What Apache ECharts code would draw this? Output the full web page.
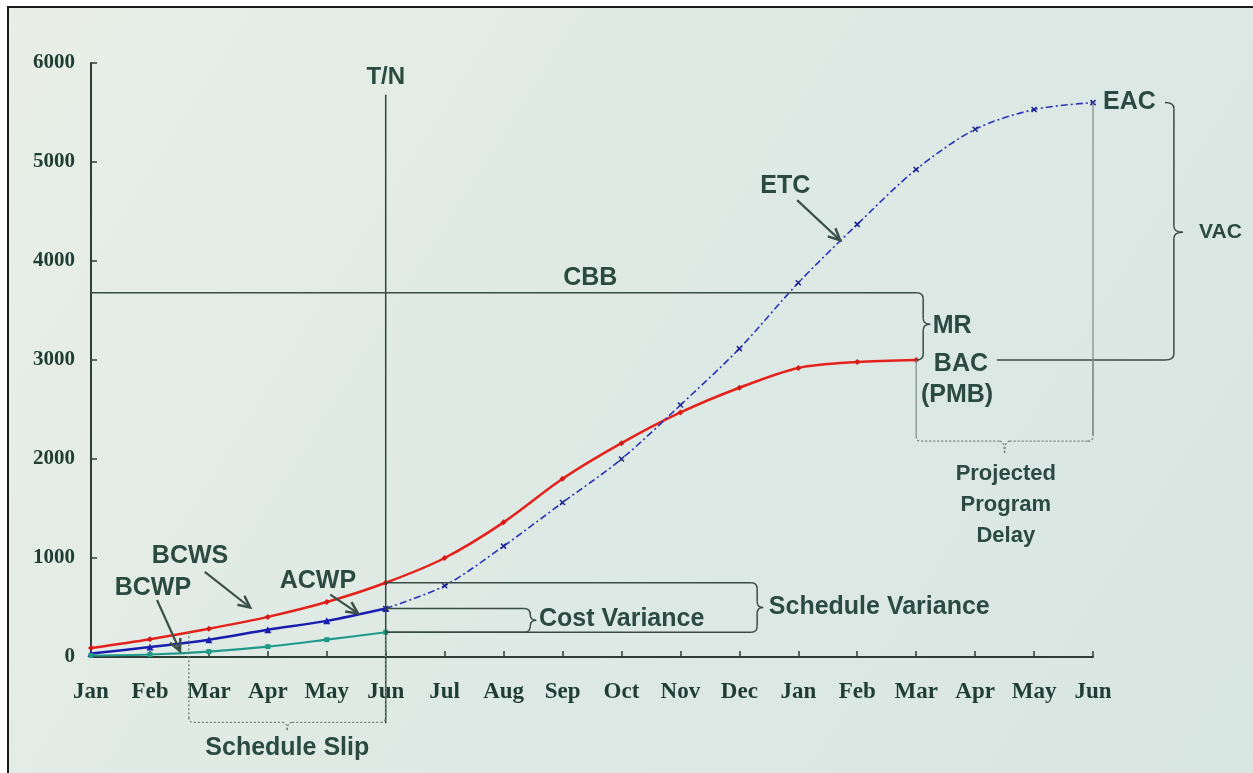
<!DOCTYPE html>
<html>
<head>
<meta charset="utf-8">
<style>
  html, body { margin: 0; padding: 0; background: #fff; }
  #main { width: 1253px; height: 773px; }
</style>
<script src="https://cdn.jsdelivr.net/npm/echarts@6/dist/echarts.min.js"></script>
</head>
<body>
<div id="main"></div>
<script>
// month categories (two fiscal years, Jan .. Jun of next year)
const months = ['Jan', 'Feb', 'Mar', 'Apr', 'May', 'Jun', 'Jul', 'Aug', 'Sep', 'Oct', 'Nov', 'Dec',
  'Jan', 'Feb', 'Mar', 'Apr', 'May', 'Jun']

// budgeted cost of work scheduled (planned)
const bcws = [90, 180, 285, 405, 555, 750, 1000, 1360, 1800, 2160, 2470, 2720, 2920, 2980, 3000]
// actual cost of work performed
const acwp = [35, 100, 175, 275, 365, 490]
// budgeted cost of work performed (earned)
const bcwp = [15, 25, 55, 105, 175, 250]
// estimate to complete, starting at time now
const etc = [null, null, null, null, null, 490, 720, 1120, 1560, 2000, 2545, 3115, 3780, 4370, 4925, 5330, 5530, 5600]

const yMin = 0
const yMax = 6000
const yStep = 1000

const ink = '#2b4a41'
const lineCol = '#384c45'

const chart = echarts.init(document.getElementById('main'))

chart.setOption({
  animation: false,
  backgroundColor: '#ffffff',
  grid: { left: 91, right: 160, top: 63, bottom: 116 },
  xAxis: {
    type: 'category',
    data: months,
    boundaryGap: false,
    axisLine: { lineStyle: { color: '#2f3d39', width: 2 } },
    axisTick: { inside: true, length: 6, alignWithLabel: true, interval: 0, lineStyle: { color: '#2f3d39', width: 1.5 } },
    axisLabel: {
      interval: 0, margin: 24, color: '#1f3d34',
      fontFamily: 'Liberation Serif', fontWeight: 'bold', fontSize: 23
    },
    splitLine: { show: false }
  },
  yAxis: {
    type: 'value',
    min: yMin, max: yMax, interval: yStep,
    axisLine: { show: true, lineStyle: { color: '#2f3d39', width: 2 } },
    axisTick: { show: true, inside: true, length: 6, lineStyle: { color: '#2f3d39', width: 1.5 } },
    axisLabel: {
      margin: 16, color: '#1f3d34',
      fontFamily: 'Liberation Serif', fontWeight: 'bold', fontSize: 21,
      formatter: v => String(v)
    },
    splitLine: { show: false }
  },
  series: [
    {
      name: 'BCWS', type: 'line', data: bcws, smooth: 0.3,
      symbol: 'diamond', symbolSize: 6,
      lineStyle: { color: '#e4221b', width: 2.5 },
      itemStyle: { color: '#d41a16' }, z: 4
    },
    {
      name: 'ACWP', type: 'line', data: acwp, smooth: 0.3,
      symbol: 'triangle', symbolSize: 7,
      lineStyle: { color: '#1a1eb0', width: 2.5 },
      itemStyle: { color: '#1a1eb0' }, z: 4
    },
    {
      name: 'BCWP', type: 'line', data: bcwp, smooth: 0.3,
      symbol: 'rect', symbolSize: 5,
      lineStyle: { color: '#1f9a88', width: 2.2 },
      itemStyle: { color: '#1f9a88' }, z: 4
    },
    {
      name: 'ETC', type: 'line', data: etc, smooth: 0.3,
      symbol: 'path://M0,0L10,10M10,0L0,10', symbolSize: 5,
      lineStyle: { color: '#2a34b8', width: 1.6, type: [7, 3, 2, 3] },
      itemStyle: { color: 'none', borderColor: '#1a2290', borderWidth: 1.5 }, z: 4
    }
  ]
})

// position of a (fractional) month index and value in pixels
function P(i, v) {
  const a = chart.convertToPixel({ gridIndex: 0 }, [0, v])
  const b = chart.convertToPixel({ gridIndex: 0 }, [months.length - 1, v])
  return [a[0] + (b[0] - a[0]) * i / (months.length - 1), a[1]]
}

function label(text, i, v, opt) {
  const p = P(i, v)
  opt = opt || {}
  return {
    type: 'text', z: 10, x: p[0], y: p[1],
    style: {
      text: text, fill: ink,
      font: 'bold ' + (opt.size || 25) + 'px "Liberation Sans"',
      align: opt.align || 'center', textAlign: opt.align || 'center',
      verticalAlign: 'middle', textVerticalAlign: 'middle',
      lineHeight: opt.lineHeight || 30
    }
  }
}

function pxLine(a, b, st) {
  return {
    type: 'line', z: 9,
    shape: { x1: a[0], y1: a[1], x2: b[0], y2: b[1] },
    style: Object.assign({ stroke: lineCol, lineWidth: 1.5 }, st)
  }
}

function pxCurve(a, c, b, st) {
  return {
    type: 'bezierCurve', z: 9,
    shape: { x1: a[0], y1: a[1], cpx1: c[0], cpy1: c[1], x2: b[0], y2: b[1] },
    style: Object.assign({ stroke: lineCol, lineWidth: 1.5, fill: null }, st)
  }
}

function seg(i1, v1, i2, v2, st) {
  return pxLine(P(i1, v1), P(i2, v2), st)
}

// vertical curly brace "}" from vTop (higher value) down to vBot at month index i
function vbrace(i, vTop, vBot, vTip, w, st) {
  const t = P(i, vTop), b = P(i, vBot), m = P(i, vTip)
  const x = t[0], h = x + w / 2, r = 6
  return [
    pxCurve([x, t[1]], [h, t[1]], [h, t[1] + r], st),
    pxLine([h, t[1] + r], [h, m[1] - r], st),
    pxCurve([h, m[1] - r], [h, m[1]], [x + w, m[1]], st),
    pxCurve([x + w, m[1]], [h, m[1]], [h, m[1] + r], st),
    pxLine([h, m[1] + r], [h, b[1] - r], st),
    pxCurve([h, b[1] - r], [h, b[1]], [x, b[1]], st)
  ]
}

// bracket hanging below: two verticals and a dotted bottom with a tip
function hbrace(iL, iR, vTop, vBot, vTip, stSide) {
  const l = P(iL, vBot), r = P(iR, vBot), tl = P(iL, vTop), tr = P(iR, vTop)
  const tip = P((iL + iR) / 2, vTip)
  const y = l[1], k = 5
  const st = { stroke: '#6d7f79', lineWidth: 1.3, lineDash: [2, 2] }
  const side = stSide || st
  return [
    pxLine(tl, [l[0], y - k], side),
    pxCurve([l[0], y - k], [l[0], y], [l[0] + k, y], st),
    pxLine([l[0] + k, y], [tip[0] - k, y], st),
    pxCurve([tip[0] - k, y], [tip[0], y], [tip[0], tip[1]], st),
    pxCurve([tip[0], tip[1]], [tip[0], y], [tip[0] + k, y], st),
    pxLine([tip[0] + k, y], [r[0] - k, y], st),
    pxCurve([r[0] - k, y], [r[0], y], [r[0], y - k], st),
    pxLine([r[0], y - k], tr, side)
  ]
}

function arrow(i1, v1, i2, v2) {
  const a = P(i1, v1), b = P(i2, v2)
  const ang = Math.atan2(b[1] - a[1], b[0] - a[0])
  const len = 13, sp = 0.45
  const p1 = [b[0] - len * Math.cos(ang - sp), b[1] - len * Math.sin(ang - sp)]
  const p2 = [b[0] - len * Math.cos(ang + sp), b[1] - len * Math.sin(ang + sp)]
  return [
    pxLine(a, b, { stroke: '#3b5049', lineWidth: 2.2 }),
    { type: 'polyline', z: 9, shape: { points: [p1, b, p2] },
      style: { fill: null, stroke: '#3b5049', lineWidth: 2.5 } }
  ]
}

const g = []
// framed background panel
g.push({
  type: 'rect', z: -10, silent: true,
  shape: { x: 8, y: 7, width: 1300, height: 820 },
  style: {
    stroke: '#1a1a1a', lineWidth: 2,
    fill: new echarts.graphic.LinearGradient(0, 0, 1, 1, [
      { offset: 0, color: '#e9efe7' },
      { offset: 0.5, color: '#dde9e4' },
      { offset: 1, color: '#d7e5e0' }
    ])
  }
})

// time now
g.push(seg(5, 5680, 5, -670, { stroke: '#33443f' }))
g.push(label('T/N', 5, 5855, { size: 24 }))

// CBB and management reserve
g.push(seg(0, 3680, 14, 3680))
g.push(label('CBB', 8.47, 3830))
g.push(...vbrace(14, 3680, 3000, 3360, 14))
g.push(label('MR', 14.28, 3340, { align: 'left' }))
g.push(label('BAC', 14.3, 2960, { align: 'left' }))
g.push(label('(PMB)', 14.08, 2650, { align: 'left' }))

// BAC to VAC brace to EAC
g.push(seg(15.37, 3000, 18.22, 3000))
g.push(...vbrace(18.22, 5600, 3000, 4290, 18))
g.push(label('VAC', 18.8, 4290, { size: 21, align: 'left' }))
g.push(label('EAC', 17.17, 5600, { align: 'left' }))
g.push(seg(17, 5600, 17, 2240, { stroke: '#7c8c87', lineWidth: 1.2 }))

// projected delay
g.push(...hbrace(14, 17, 3000, 2180, 2060, { stroke: '#7c8c87', lineWidth: 1.2 }))
g.push(label('Projected\nProgram\nDelay', 15.52, 1540, { size: 22, lineHeight: 31 }))

// schedule slip
g.push(...hbrace(1.66, 5, 250, -660, -740))
g.push(label('Schedule Slip', 3.33, -920))

// cost variance
g.push(seg(5, 490, 7.35, 490))
g.push(seg(5, 250, 7.35, 250))
g.push(...vbrace(7.35, 490, 250, 370, 12))
g.push(label('Cost Variance', 7.6, 380, { align: 'left' }))

// schedule variance
g.push(seg(5, 750, 11.2, 750))
g.push(seg(5, 250, 11.2, 250))
g.push(...vbrace(11.2, 750, 250, 500, 12))
g.push(label('Schedule Variance', 11.5, 505, { align: 'left' }))

// series call-outs
g.push(label('BCWS', 1.68, 1015))
g.push(...arrow(1.93, 860, 2.7, 500))
g.push(label('ACWP', 3.85, 770))
g.push(...arrow(4.06, 630, 4.53, 440))
g.push(label('BCWP', 1.05, 700))
g.push(...arrow(1.12, 575, 1.51, 60))
g.push(label('ETC', 11.78, 4755))
g.push(...arrow(11.98, 4615, 12.71, 4210))

chart.setOption({ graphic: { elements: g } })
</script>
</body>
</html>
